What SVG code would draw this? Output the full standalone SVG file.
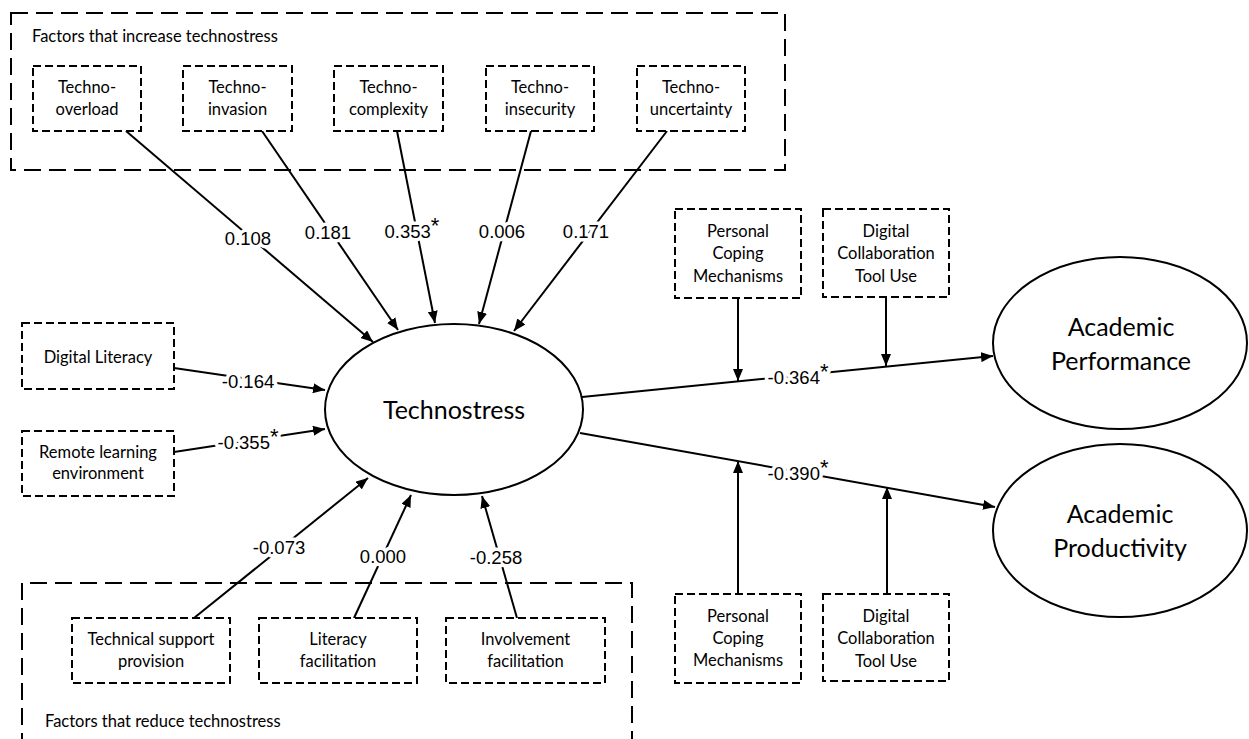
<svg xmlns="http://www.w3.org/2000/svg" width="1249" height="739" viewBox="0 0 1249 739">
<style>
.group{fill:none;stroke:#000;stroke-width:2;stroke-dasharray:17 8}
.box{fill:#fff;stroke:#000;stroke-width:2;stroke-dasharray:8 4}
.ell{fill:#fff;stroke:#000;stroke-width:2}
.t{font-family:Lato,"Open Sans",sans-serif;font-size:16.5px;fill:#000;text-anchor:middle}
.title{font-family:Lato,"Open Sans",sans-serif;font-size:16.5px;fill:#000}
.big{font-family:Lato,"Open Sans",sans-serif;font-size:25px;fill:#000;text-anchor:middle}
.edge{fill:none;stroke:#000;stroke-width:2}
.lab{font-family:"Liberation Sans",Arial,sans-serif;font-size:18.5px;fill:#000;text-anchor:middle;stroke:#fff;stroke-width:7;paint-order:stroke;stroke-linejoin:round}
.ast{font-size:22px}
</style>
<defs>
<marker id="ah" viewBox="0 0 12 10" refX="12" refY="5" markerWidth="12" markerHeight="10" markerUnits="userSpaceOnUse" orient="auto">
<path d="M0,0 L12,5 L0,10 Z" fill="#000"/>
</marker>
</defs>
<rect width="1249" height="739" fill="#fff"/>

<g id="group-increase">
<rect class="group" x="11" y="13" width="774" height="157"/>
<text class="title" x="32" y="42">Factors that increase technostress</text>
</g>
<g id="group-reduce">
<path class="group" d="M22,750 V583 H632 V750"/>
<text class="title" x="45" y="727">Factors that reduce technostress</text>
</g>

<g id="connectors">
<line class="edge" x1="126" y1="131" x2="373" y2="342" marker-end="url(#ah)"/>
<line class="edge" x1="262" y1="131" x2="398" y2="330" marker-end="url(#ah)"/>
<line class="edge" x1="397" y1="131" x2="435" y2="323" marker-end="url(#ah)"/>
<line class="edge" x1="531" y1="131" x2="479" y2="324" marker-end="url(#ah)"/>
<line class="edge" x1="667" y1="131" x2="514" y2="331" marker-end="url(#ah)"/>
<line class="edge" x1="174" y1="368" x2="325" y2="390" marker-end="url(#ah)"/>
<line class="edge" x1="174" y1="452" x2="325" y2="429" marker-end="url(#ah)"/>
<line class="edge" x1="194" y1="618" x2="368" y2="478" marker-end="url(#ah)"/>
<line class="edge" x1="354" y1="618" x2="411" y2="495" marker-end="url(#ah)"/>
<line class="edge" x1="517" y1="618" x2="482" y2="496" marker-end="url(#ah)"/>
<line class="edge" x1="582" y1="397" x2="993" y2="356" marker-end="url(#ah)"/>
<line class="edge" x1="580" y1="433" x2="995" y2="507" marker-end="url(#ah)"/>
<line class="edge" x1="738" y1="298" x2="738" y2="381" marker-end="url(#ah)"/>
<line class="edge" x1="886" y1="297" x2="886" y2="366" marker-end="url(#ah)"/>
<line class="edge" x1="738" y1="594" x2="738" y2="461" marker-end="url(#ah)"/>
<line class="edge" x1="887" y1="594" x2="887" y2="487" marker-end="url(#ah)"/>
<text class="lab" x="248" y="245">0.108</text>
<text class="lab" x="328" y="239">0.181</text>
<text class="lab" x="412" y="238">0.353<tspan class="ast" dy="-5">*</tspan></text>
<text class="lab" x="502" y="238">0.006</text>
<text class="lab" x="586" y="238">0.171</text>
<text class="lab" x="248" y="388">-0.164</text>
<text class="lab" x="248" y="449">-0.355<tspan class="ast" dy="-5">*</tspan></text>
<text class="lab" x="279" y="554">-0.073</text>
<text class="lab" x="383" y="563">0.000</text>
<text class="lab" x="496" y="564">-0.258</text>
<text class="lab" x="798" y="384">-0.364<tspan class="ast" dy="-5">*</tspan></text>
<text class="lab" x="798" y="480">-0.390<tspan class="ast" dy="-5">*</tspan></text>
</g>

<g id="techno-overload"><rect class="box" x="33" y="66" width="108" height="65"/><text class="t" x="87" y="93">Techno-</text><text class="t" x="87" y="115">overload</text></g>
<g id="techno-invasion"><rect class="box" x="183" y="66" width="109" height="65"/><text class="t" x="237.5" y="93">Techno-</text><text class="t" x="237.5" y="115">invasion</text></g>
<g id="techno-complexity"><rect class="box" x="334" y="66" width="109" height="65"/><text class="t" x="388.5" y="93">Techno-</text><text class="t" x="388.5" y="115">complexity</text></g>
<g id="techno-insecurity"><rect class="box" x="486" y="66" width="108" height="65"/><text class="t" x="540" y="93">Techno-</text><text class="t" x="540" y="115">insecurity</text></g>
<g id="techno-uncertainty"><rect class="box" x="637" y="66" width="108" height="65"/><text class="t" x="691" y="93">Techno-</text><text class="t" x="691" y="115">uncertainty</text></g>

<g id="digital-literacy"><rect class="box" x="22" y="323" width="152" height="66"/><text class="t" x="98" y="363">Digital Literacy</text></g>
<g id="remote-learning"><rect class="box" x="22" y="431" width="152" height="65"/><text class="t" x="98" y="458">Remote learning</text><text class="t" x="98" y="479">environment</text></g>

<g id="technical-support"><rect class="box" x="72" y="618" width="158" height="65"/><text class="t" x="151" y="645">Technical support</text><text class="t" x="151" y="667">provision</text></g>
<g id="literacy-facilitation"><rect class="box" x="259" y="618" width="158" height="65"/><text class="t" x="338" y="645">Literacy</text><text class="t" x="338" y="667">facilitation</text></g>
<g id="involvement-facilitation"><rect class="box" x="446" y="618" width="159" height="65"/><text class="t" x="525.5" y="645">Involvement</text><text class="t" x="525.5" y="667">facilitation</text></g>

<g id="technostress"><ellipse class="ell" cx="454" cy="409.5" rx="129" ry="85.5"/><text class="big" x="454" y="419">Technostress</text></g>
<g id="academic-performance"><ellipse class="ell" cx="1120" cy="343" rx="127" ry="86"/><text class="big" x="1121" y="336">Academic</text><text class="big" x="1121" y="370">Performance</text></g>
<g id="academic-productivity"><ellipse class="ell" cx="1120" cy="530.5" rx="127" ry="86.5"/><text class="big" x="1120" y="523">Academic</text><text class="big" x="1120" y="557">Productivity</text></g>

<g id="coping-top"><rect class="box" x="675" y="209" width="126" height="89"/><text class="t" x="738" y="237">Personal</text><text class="t" x="738" y="259">Coping</text><text class="t" x="738" y="282">Mechanisms</text></g>
<g id="collab-top"><rect class="box" x="823" y="209" width="126" height="88"/><text class="t" x="886" y="237">Digital</text><text class="t" x="886" y="259">Collaboration</text><text class="t" x="886" y="282">Tool Use</text></g>
<g id="coping-bottom"><rect class="box" x="675" y="594" width="126" height="89"/><text class="t" x="738" y="622">Personal</text><text class="t" x="738" y="644">Coping</text><text class="t" x="738" y="666">Mechanisms</text></g>
<g id="collab-bottom"><rect class="box" x="823" y="594" width="126" height="87"/><text class="t" x="886" y="622">Digital</text><text class="t" x="886" y="644">Collaboration</text><text class="t" x="886" y="667">Tool Use</text></g>
</svg>
